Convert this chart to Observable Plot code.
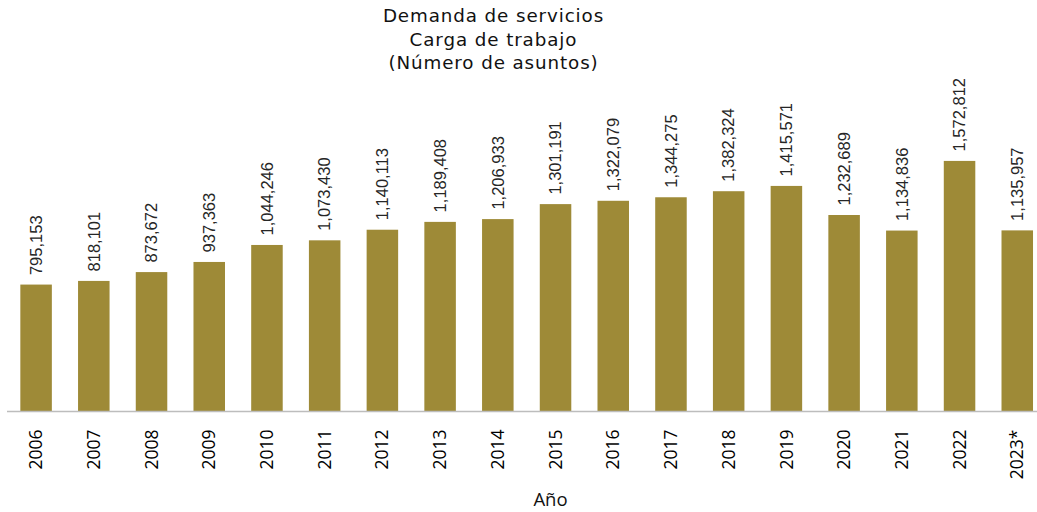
<!DOCTYPE html>
<html>
<head>
<meta charset="utf-8">
<script src="https://cdn.jsdelivr.net/npm/d3@7"></script>
<script src="https://cdn.jsdelivr.net/npm/@observablehq/plot@0.6"></script>
<style>
  html, body { margin: 0; padding: 0; background: #fff; width: 1037px; height: 512px; overflow: hidden; }
  #title { height: 72px; padding-top: 4px; text-align: center; font-family: "DejaVu Sans", sans-serif; font-size: 18.3px; line-height: 23.5px; color: #111; letter-spacing: 0.9px; position: relative; left: -25px; }
  #chart svg { overflow: visible; background: none; }
</style>
</head>
<body>
<div id="title">Demanda de servicios<br>Carga de trabajo<br>(Número de asuntos)</div>
<div id="chart"></div>
<script>
const years = ["2006","2007","2008","2009","2010","2011","2012","2013","2014","2015","2016","2017","2018","2019","2020","2021","2022","2023*"];
const asuntos = [795153, 818101, 873672, 937363, 1044246, 1073430, 1140113, 1189408, 1206933, 1301191, 1322079, 1344275, 1382324, 1415571, 1232689, 1134836, 1572812, 1135957];
const xLabel = "Año";

const data = years.map((y, i) => ({year: y, value: asuntos[i]}));
const fmt = d3.format(",");

const plot = Plot.plot({
  width: 1037,
  height: 436,
  marginLeft: 7,
  marginRight: 0,
  marginTop: 17,
  marginBottom: 101,
  style: {background: "none", overflow: "visible"},
  x: {domain: years, paddingInner: 0.454, paddingOuter: 0.15, align: 0.77, round: false, label: null},
  y: {domain: [0, 2000000], axis: null},
  marks: [
    Plot.barY(data, {x: "year", y: "value", fill: "#9e8a37"}),
    Plot.ruleY([0], {stroke: "#bdbdbd", strokeWidth: 1.5}),
    Plot.text(data, {x: "year", y: "value", text: d => fmt(d.value), rotate: -90, textAnchor: "start", dy: -10,
      fontFamily: "Liberation Sans, Arial, sans-serif", fontSize: 16.5, fill: "#262626"}),
    Plot.axisX({tickSize: 0, tickPadding: 18, tickRotate: -90, fontSize: 17.5, fontWeight: 500, fontFamily: "Open Sans, sans-serif", color: "#000", label: null}),
    Plot.text([xLabel], {frameAnchor: "bottom", dy: 94, dx: 28, fontSize: 18.5, fontFamily: "Open Sans, sans-serif", fill: "#111"})
  ]
});
document.getElementById("chart").appendChild(plot);
</script>
</body>
</html>
